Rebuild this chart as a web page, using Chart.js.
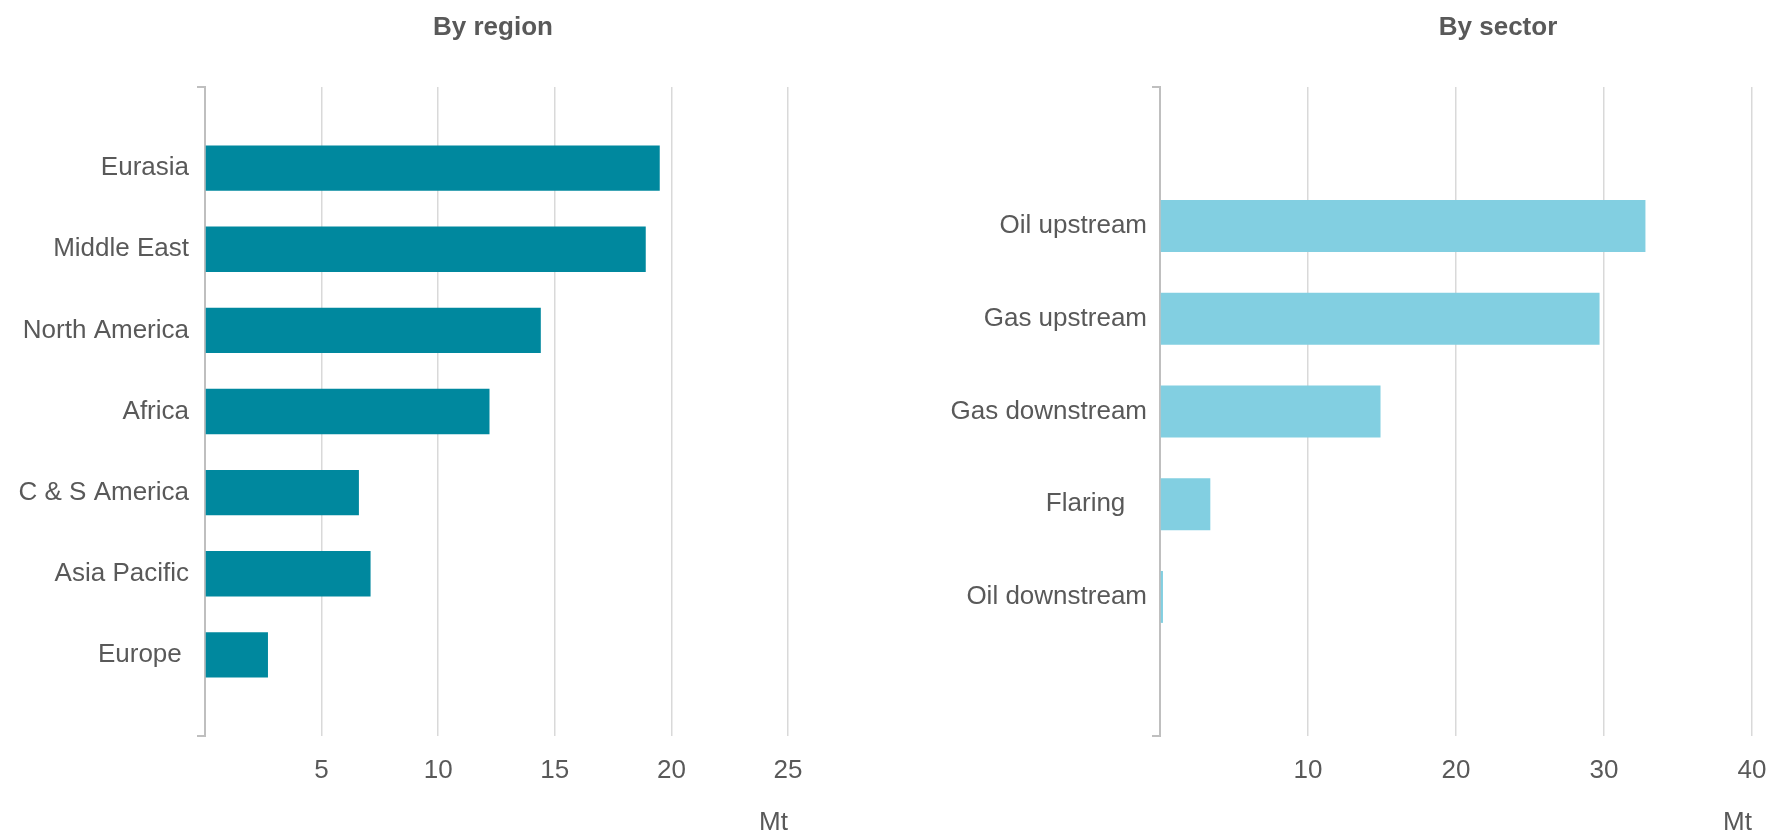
<!DOCTYPE html>
<html>
<head>
<meta charset="utf-8">
<title>Emissions by region and sector</title>
<script src="https://cdn.jsdelivr.net/npm/chart.js"></script>
<style>
  html, body { margin: 0; padding: 0; background: #fff; overflow: hidden; }
  .box { position: absolute; top: 0; width: 885px; height: 833px; }
  #left { left: 0; }
  #right { left: 885px; }
</style>
</head>
<body>
<div class="box" id="left"><canvas id="regionChart"></canvas></div>
<div class="box" id="right"><canvas id="sectorChart"></canvas></div>
<script>
const regionLabels = ["Eurasia", "Middle East", "North America", "Africa", "C & S America", "Asia Pacific", "Europe "];
const regionValues = [19.5, 18.9, 14.4, 12.2, 6.6, 7.1, 2.7];
const regionTicks = [5, 10, 15, 20, 25];

const sectorLabels = ["Oil upstream", "Gas upstream", "Gas downstream", "Flaring   ", "Oil downstream"];
const sectorValues = [32.8, 29.7, 14.9, 3.4, 0.2];
const sectorTicks = [10, 20, 30, 40];

const textColor = "#595959";
const gridColor = "#d9d9d9";
const axisColor = "#bfbfbf";
const font = "'Liberation Sans', Arial, sans-serif";

Chart.defaults.font.family = font;
Chart.defaults.color = textColor;

// title drawn at a fixed x so it sits where the original had it
const titleAt = {
  id: "titleAt",
  afterDraw(chart, args, opts) {
    const ctx = chart.ctx;
    ctx.save();
    ctx.font = "bold 26px " + font;
    ctx.fillStyle = textColor;
    ctx.textAlign = "center";
    ctx.textBaseline = "middle";
    ctx.fillText(opts.text, opts.x, opts.y);
    ctx.restore();
  },
};

function makeChart(id, labels, values, ticks, o) {
  const padded = [""].concat(labels, [""]);
  const data = [null].concat(values, [null]);
  const last = padded.length - 1;
  return new Chart(document.getElementById(id), {
    type: "bar",
    plugins: [titleAt],
    data: {
      labels: padded,
      datasets: [{
        data: data,
        backgroundColor: o.color,
        barPercentage: 0.56,
        categoryPercentage: 1,
      }],
    },
    options: {
      indexAxis: "y",
      responsive: true,
      maintainAspectRatio: false,
      animation: false,
      layout: { padding: { top: 87, right: o.padRight, bottom: 0, left: 0 } },
      plugins: {
        legend: { display: false },
        tooltip: { enabled: false },
        titleAt: { text: o.title, x: o.titleX, y: 28 },
      },
      scales: {
        x: {
          min: 0,
          max: ticks[ticks.length - 1],
          afterBuildTicks: (scale) => {
            scale.ticks = [{ value: 0 }].concat(ticks.map((v) => ({ value: v })));
          },
          // let layout.padding alone decide the right edge
          afterFit: (scale) => {
            scale.paddingLeft = 0;
            scale.paddingRight = 0;
          },
          grid: { color: gridColor, lineWidth: 1.5, drawTicks: false },
          border: { display: false },
          ticks: {
            padding: 22,
            font: { size: 26, lineHeight: 1 },
            color: textColor,
            callback: (v) => (v === 0 ? "" : v),
          },
          title: {
            display: true,
            text: "Mt",
            align: "end",
            font: { size: 26, lineHeight: 1 },
            color: textColor,
            padding: { top: 4, bottom: -3 },
          },
        },
        y: {
          offset: o.offset,
          afterFit: (scale) => { scale.width = o.axisLeft; },
          grid: {
            offset: o.offset,
            drawOnChartArea: false,
            drawTicks: true,
            tickLength: 8,
            lineWidth: 2,
            color: (c) => {
              // only the two end marks of the category axis are visible
              if (c.type !== "tick") return axisColor;
              if (c.index === 0) return axisColor;
              if (!o.offset && c.index === last) return axisColor;
              return "rgba(0,0,0,0)";
            },
          },
          border: { display: true, color: axisColor, width: 2 },
          ticks: {
            padding: o.labelGap,
            autoSkip: false,
            font: { size: 26 },
            color: textColor,
          },
        },
      },
    },
  });
}

makeChart("regionChart", regionLabels, regionValues, regionTicks, {
  color: "#00889e",
  title: "By region",
  titleX: 493,
  offset: false,
  axisLeft: 205,
  padRight: 97,
  labelGap: 8,
});

makeChart("sectorChart", sectorLabels, sectorValues, sectorTicks, {
  color: "#82cfe1",
  title: "By sector",
  titleX: 613,
  offset: true,
  axisLeft: 275,
  padRight: 18,
  labelGap: 5,
});
</script>
</body>
</html>
